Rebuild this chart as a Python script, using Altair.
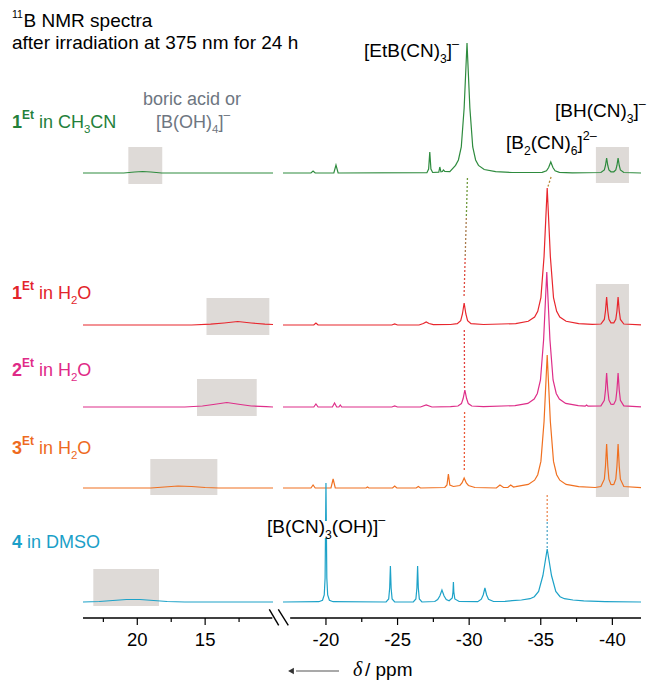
import altair as alt
import pandas as pd

# ---------------- data ----------------
SERIES = ["1Et in CH3CN", "1Et in H2O", "2Et in H2O", "3Et in H2O", "4 in DMSO"]

# left segment (ppm, intensity)
GREEN_L = [(24, 0), (21, 0), (20.2, 1), (19.6, 1.5), (19.0, 1), (18.2, 0), (10, 0)]
RED_L = [(24, 0), (16, 0), (14.6, 0.8), (13.6, 2), (12.6, 3.5), (11.6, 2), (10.6, 0.8), (10, 0.5)]
PINK_L = [(24, 0), (16.5, 0), (15.2, 1), (14.4, 2.5), (13.4, 4.5), (12.4, 2.5), (11.6, 1), (10.5, 0.3), (10, 0)]
ORANGE_L = [(24, 0), (19, 0), (18, 1), (17, 2), (16, 1.5), (15, 0.5), (14, 0), (10, 0)]
BLUE_L = [(24, 0), (22.8, 0.5), (21.8, 1.5), (20.8, 2.5), (19.8, 2.5), (18.8, 1.5), (17.8, 0.5), (16.5, 0), (10, 0)]

# right segment (ppm, intensity)
GREEN_R = [(-17, 0), (-18.95, 0), (-19.1, 2), (-19.25, 0), (-20.55, 0), (-20.7, 8), (-20.85, 0),
           (-27.05, 0.3), (-27.17, 4), (-27.25, 21), (-27.33, 4), (-27.45, 0.5), (-27.88, 0.8),
           (-27.95, 6), (-28.03, 1.2), (-28.13, 1.5), (-28.2, 3), (-28.3, 1.5), (-28.65, 1.3),
           (-29.05, 7.6), (-29.25, 13), (-29.45, 26), (-29.65, 65), (-29.85, 130), (-30.05, 65),
           (-30.25, 26), (-30.45, 13), (-30.65, 7.6), (-31.05, 3.5), (-31.85, 1.3), (-33.0, 0.5),
           (-35.1, 0.6), (-35.4, 2.2), (-35.55, 5.5), (-35.7, 11), (-35.85, 5.5), (-36.0, 2.2),
           (-36.3, 0.6), (-37.2, 0.2),
           (-39.2, 0.5), (-39.44, 3), (-39.52, 7.5), (-39.6, 15), (-39.68, 7.5), (-39.76, 3),
           (-39.9, 1.2), (-40.0, 1.1), (-40.1, 1.2), (-40.24, 3), (-40.32, 7.5), (-40.4, 15),
           (-40.48, 7.5), (-40.56, 3), (-40.8, 0.5), (-42, 0)]
RED_R = [(-17, 0), (-19.15, 0), (-19.3, 2), (-19.45, 0), (-24.6, 0), (-24.8, 1), (-25.0, 0),
         (-26.5, 0), (-26.8, 1.5), (-27.0, 3), (-27.2, 1.5), (-27.5, 0.3), (-28.7, 0.5),
         (-29.17, 1.3), (-29.41, 4.4), (-29.53, 11), (-29.65, 22), (-29.77, 11), (-29.89, 4.4),
         (-30.13, 1.3), (-31.0, 0.5), (-33.25, 1.4), (-34.13, 3.7), (-34.57, 8), (-34.79, 13.7),
         (-35.01, 27.4), (-35.23, 68.5), (-35.45, 137), (-35.67, 68.5), (-35.89, 27.4),
         (-36.11, 13.7), (-36.33, 8), (-36.77, 3.7), (-37.65, 1.4), (-38.6, 0.6),
         (-39.2, 1), (-39.44, 5.6), (-39.52, 14), (-39.6, 28), (-39.68, 14), (-39.76, 5.6),
         (-39.9, 2.2), (-40.0, 2.1), (-40.1, 2.2), (-40.24, 5.6), (-40.32, 14), (-40.4, 28),
         (-40.48, 14), (-40.56, 5.6), (-40.8, 1), (-42, 0.2)]
PINK_R = [(-17, 0), (-19.15, 0), (-19.3, 3), (-19.45, 0), (-20.45, 0), (-20.6, 4), (-20.75, 0),
          (-20.9, 0), (-21.0, 2), (-21.1, 0), (-24.6, 0), (-24.8, 1), (-25.0, 0), (-26.6, 0),
          (-27.0, 2), (-27.4, 0), (-28.7, 0.4), (-29.22, 1), (-29.46, 3.4), (-29.58, 8.5),
          (-29.7, 17), (-29.82, 8.5), (-29.94, 3.4), (-30.18, 1), (-31.0, 0.4), (-33.2, 1.4),
          (-34.1, 3.6), (-34.54, 7.9), (-34.76, 13.5), (-34.98, 27), (-35.2, 67.5), (-35.42, 135),
          (-35.64, 67.5), (-35.86, 27), (-36.08, 13.5), (-36.3, 7.9), (-36.74, 3.6), (-37.62, 1.4),
          (-38.1, 0.8), (-38.2, 2), (-38.3, 0.8),
          (-39.2, 1.2), (-39.44, 6.8), (-39.52, 17), (-39.6, 34), (-39.68, 17), (-39.76, 6.8),
          (-39.9, 2.7), (-40.0, 2.6), (-40.1, 2.7), (-40.24, 6.8), (-40.32, 17), (-40.4, 34),
          (-40.48, 17), (-40.56, 6.8), (-40.8, 1.2), (-42, 0.2)]
ORANGE_R = [(-17, 0), (-18.95, 0), (-19.1, 3), (-19.25, 0), (-20.35, 0), (-20.5, 9), (-20.65, 0),
            (-22.8, 0), (-22.9, 1), (-23.0, 0), (-24.65, 0), (-24.8, 2), (-24.95, 0), (-26.3, 0),
            (-26.45, 1.5), (-26.6, 0), (-28.3, 0.5), (-28.45, 3), (-28.55, 14), (-28.65, 3),
            (-28.9, 1.5), (-29.35, 2.5), (-29.5, 5), (-29.65, 10), (-29.8, 5), (-29.95, 2.5),
            (-30.4, 0.5), (-31.9, 0), (-32.15, 3), (-32.4, 0.5), (-32.7, 0.5), (-32.9, 3),
            (-33.1, 1), (-33.25, 1.3), (-34.13, 3.6), (-34.57, 7.8), (-34.79, 13.3),
            (-35.01, 26.6), (-35.23, 66.5), (-35.45, 133), (-35.67, 66.5), (-35.89, 26.6),
            (-36.11, 13.3), (-36.33, 7.8), (-36.77, 3.6), (-37.65, 1.3), (-38.8, 0.5),
            (-39.2, 1.5), (-39.44, 8.8), (-39.52, 22), (-39.6, 44), (-39.68, 22), (-39.76, 8.8),
            (-39.9, 3.5), (-40.0, 3.4), (-40.1, 3.5), (-40.24, 8.8), (-40.32, 22), (-40.4, 44),
            (-40.48, 22), (-40.56, 8.8), (-40.8, 1.5), (-42, 0.3)]
BLUE_R = [(-17, 0), (-19.5, 0.3), (-19.76, 1.7), (-19.88, 7), (-19.94, 24), (-20.0, 119),
          (-20.06, 24), (-20.12, 7), (-20.24, 1.7), (-20.5, 0.3), (-24.2, 0), (-24.38, 3),
          (-24.45, 14), (-24.5, 36), (-24.55, 14), (-24.62, 3), (-24.8, 0), (-26.1, 0),
          (-26.28, 3), (-26.35, 14), (-26.4, 36), (-26.45, 14), (-26.52, 3), (-26.7, 0),
          (-27.6, 0.5), (-27.8, 2.5), (-27.95, 6), (-28.1, 12), (-28.25, 6), (-28.4, 2.5),
          (-28.6, 1.2), (-28.82, 4), (-28.87, 10), (-28.9, 20), (-28.93, 10), (-29.0, 3),
          (-29.3, 0.5), (-30.6, 0.3), (-30.85, 2.8), (-30.98, 7), (-31.1, 14), (-31.22, 7),
          (-31.35, 2.8), (-31.7, 0.5), (-32.5, 0.6), (-33.0, 1.3), (-33.65, 2), (-34.25, 3.3),
          (-34.55, 5.3), (-34.85, 10.6), (-35.15, 26.5), (-35.45, 53), (-35.75, 26.5),
          (-36.05, 10.6), (-36.35, 5.3), (-36.65, 3.3), (-37.25, 2), (-38.0, 1.1),
          (-39.5, 0.4), (-42, 0)]

LEFT = [GREEN_L, RED_L, PINK_L, ORANGE_L, BLUE_L]
RIGHT = [GREEN_R, RED_R, PINK_R, ORANGE_R, BLUE_R]

# highlight boxes (ppm from, ppm to, level bottom, level top)
BOX_X1 = [20.66, -38.85, 14.9, 15.6, 19.04, 23.24, -38.85]
BOX_X2 = [18.16, -41.16, 10.27, 11.2, 14.1, 18.4, -41.16]
BOX_Y1 = [434, 435, 283, 202, 123, 12, 121]
BOX_Y2 = [471, 471, 320, 239, 159, 49, 334]

# dotted connectors (ppm a, level a, ppm b, level b)
CON_X1 = [-29.88, -29.80, -29.72, -29.66, -29.68, -35.72, -35.45, -35.45]
CON_Y1 = [440, 400, 360, 288, 206, 441, 123, 96]
CON_X2 = [-29.80, -29.72, -29.64, -29.68, -29.66, -35.47, -35.45, -35.45]
CON_Y2 = [400, 360, 320, 230, 147, 430, 96, 69]
CON_C = ["#6f9a3c", "#a97b4c", "#dd4a3e", "#e2403e", "#ea5c3a", "#b98a3a", "#ec8a54", "#56a9c9"]

MAJOR_TICKS = [20, 15, -20, -25, -30, -35, -40]
MAJOR_LABELS = ["20", "15", "-20", "-25", "-30", "-35", "-40"]
MINOR_TICKS = [22.5, 17.5, 12.5, -22.5, -27.5, -32.5, -37.5]

# ---------------- styling / layout ----------------
COLORS = ["#2e8b3e", "#e8262d", "#de2e89", "#f07020", "#1da2c8"]
LABEL_COLORS = ["#23803a", "#e3242b", "#df2a87", "#ee6a1e", "#1a9fc8"]
OFFSETS = [445, 293, 211, 130, 16]
W, H = 641, 610
FONT = "Liberation Sans"

rows = []
for i, name in enumerate(SERIES):
    for seg, pts in (("L", LEFT[i]), ("R", RIGHT[i])):
        for p, v in pts:
            rows.append({"ppm": p, "y": v + OFFSETS[i], "series": name, "seg": name + seg})
spec = pd.DataFrame(rows)

xscale = alt.Scale(domain=[24, 10, -17, -42], range=[75, 265, 275, 633], nice=False, zero=False)
yscale = alt.Scale(domain=[0, H], nice=False, zero=False)

lines = alt.Chart(spec).mark_line(strokeWidth=1.2).encode(
    x=alt.X("ppm:Q", scale=xscale, axis=None),
    y=alt.Y("y:Q", scale=yscale, axis=None),
    color=alt.Color("series:N", scale=alt.Scale(domain=SERIES, range=COLORS), legend=None),
    detail="seg:N",
)

boxes = alt.Chart(pd.DataFrame({"a": BOX_X1, "b": BOX_X2, "c": BOX_Y1, "d": BOX_Y2})).mark_rect(
    color="#dedad7").encode(
    x=alt.X("a:Q", scale=xscale, axis=None), x2="b:Q",
    y=alt.Y("c:Q", scale=yscale, axis=None), y2="d:Q")

conns = alt.Chart(pd.DataFrame({"a": CON_X1, "b": CON_X2, "c": CON_Y1, "d": CON_Y2, "col": CON_C})).mark_rule(
    strokeDash=[2, 2], strokeWidth=1.3).encode(
    x=alt.X("a:Q", scale=xscale, axis=None), x2="b:Q",
    y=alt.Y("c:Q", scale=yscale, axis=None), y2="d:Q",
    color=alt.Color("col:N", scale=None, legend=None))

# ---- broken x axis ----
axline = alt.Chart(pd.DataFrame({"a": [24, -17.5], "b": [10.05, -42]})).mark_rule(
    strokeWidth=1.4, color="black").encode(
    x=alt.X("a:Q", scale=xscale, axis=None), x2="b:Q", y=alt.value(H))

major = alt.Chart(pd.DataFrame({"v": MAJOR_TICKS, "lab": MAJOR_LABELS}))
major_ticks = major.mark_rule(strokeWidth=1.2, color="black").encode(
    x=alt.X("v:Q", scale=xscale, axis=None), y=alt.value(H), y2=alt.value(H + 7))
major_labels = major.mark_text(font=FONT, fontSize=18.5, align="center", baseline="alphabetic",
                               color="black").encode(
    x=alt.X("v:Q", scale=xscale, axis=None), y=alt.value(H + 28), text="lab:N")
minor_ticks = alt.Chart(pd.DataFrame({"v": MINOR_TICKS})).mark_rule(strokeWidth=1.2, color="black").encode(
    x=alt.X("v:Q", scale=xscale, axis=None), y=alt.value(H), y2=alt.value(H + 4))

brk = alt.Chart(pd.DataFrame({"a": [261.3, 270.3], "b": [270.7, 280.3], "c": [601.3, 601.3], "d": [617.3, 617.3]})).mark_rule(
    strokeWidth=1.4, color="black").encode(
    x=alt.X("a:Q", scale=None, axis=None), x2="b:Q",
    y=alt.Y("c:Q", scale=None, axis=None), y2="d:Q")

# white gap in the blue peak behind its label
gap = alt.Chart(pd.DataFrame({"a": [315.5], "b": [321.5], "c": [513], "d": [530]})).mark_rect(
    color="white").encode(
    x=alt.X("a:Q", scale=None, axis=None), x2="b:Q",
    y=alt.Y("c:Q", scale=None, axis=None), y2="d:Q")

# ---------------- rich text ----------------
AW = {" ": 278, "[": 278, "]": 278, "(": 333, ")": 333, "/": 278, "–": 556, "-": 333,
      "B": 667, "C": 722, "D": 722, "E": 667, "H": 722, "M": 833, "N": 722, "O": 778,
      "R": 722, "S": 667, "a": 556, "b": 556, "c": 500, "d": 556, "e": 556, "f": 278,
      "h": 556, "i": 222, "m": 833, "n": 556, "o": 556, "p": 556, "r": 333, "s": 500, "t": 278}
AWB = {"E": 667, "t": 333}


def tw(s, size, bold=False):
    return sum((AWB.get(ch) if bold and ch in AWB else AW.get(ch, 556)) for ch in s) * size / 1000.0


def rich(parts, x0, base, color, S, center=False):
    out = []
    items = []
    for txt, kind in parts:
        if kind in ("sup", "bsup"):
            size, dy = S * 0.66, -0.5 * S
        elif kind == "sup2":
            size, dy = S * 0.55, -0.45 * S
        elif kind == "sub":
            size, dy = S * 0.64, 0.3 * S
        else:
            size, dy = S, 0
        items.append((txt, kind, size, dy, kind in ("b", "bsup")))
    if center:
        x0 = x0 - sum(tw(t, s, b) for t, _, s, _, b in items) / 2
    x = x0
    for txt, kind, size, dy, bold in items:
        lead = len(txt) - len(txt.lstrip(" "))
        core = txt.strip(" ")
        out.append({"t": core, "x": x + tw(" " * lead, size), "y": base + dy, "s": size,
                    "c": color, "bold": bold})
        x += tw(txt, size, bold)
    return out


texts = []
texts += rich([("11", "sup2"), ("B NMR spectra", "n")], 4, 19, "black", 19)
texts += rich([("after irradiation at 375 nm for 24 h", "n")], 4, 41, "black", 19)
texts += rich([("1", "b"), ("Et", "bsup"), (" in CH", "n"), ("3", "sub"), ("CN", "n")], 4, 120, LABEL_COLORS[0], 18)
texts += rich([("1", "b"), ("Et", "bsup"), (" in H", "n"), ("2", "sub"), ("O", "n")], 4, 291, LABEL_COLORS[1], 18)
texts += rich([("2", "b"), ("Et", "bsup"), (" in H", "n"), ("2", "sub"), ("O", "n")], 4, 368, LABEL_COLORS[2], 18)
texts += rich([("3", "b"), ("Et", "bsup"), (" in H", "n"), ("2", "sub"), ("O", "n")], 4, 446, LABEL_COLORS[3], 18)
texts += rich([("4", "b"), (" in DMSO", "n")], 4, 540, LABEL_COLORS[4], 18)
texts += rich([("boric acid or", "n")], 184, 97, "#6e7681", 18, center=True)
texts += rich([("[B(OH)", "n"), ("4", "sub"), ("]", "n"), ("–", "sup")], 185, 120, "#6e7681", 18, center=True)
texts += rich([("[EtB(CN)", "n"), ("3", "sub"), ("]", "n"), ("–", "sup")], 356, 49, "black", 19)
texts += rich([("[B", "n"), ("2", "sub"), ("(CN)", "n"), ("6", "sub"), ("]", "n"), ("2–", "sup")], 498, 141, "black", 19)
texts += rich([("[BH(CN)", "n"), ("3", "sub"), ("]", "n"), ("–", "sup")], 547, 109, "black", 19)
texts += rich([("[B(CN)", "n"), ("3", "sub"), ("(OH)]", "n"), ("–", "sup")], 259, 525, "black", 19)
texts += rich([("/ ppm", "n")], 357, 668, "black", 19)
tdf = pd.DataFrame(texts)


def text_layer(df, weight="normal", style="normal", font=FONT):
    return alt.Chart(df).mark_text(align="left", baseline="alphabetic", font=font,
                                   fontWeight=weight, fontStyle=style).encode(
        x=alt.X("x:Q", scale=None, axis=None),
        y=alt.Y("y:Q", scale=None, axis=None),
        size=alt.Size("s:Q", scale=None, legend=None),
        color=alt.Color("c:N", scale=None, legend=None),
        text="t:N")


t_norm = text_layer(tdf[~tdf["bold"]])
t_bold = text_layer(tdf[tdf["bold"]], weight="bold")
t_delta = text_layer(pd.DataFrame([{"t": "δ", "x": 345, "y": 668, "s": 20, "c": "black"}]),
                     style="italic", font="Liberation Serif")

arrow_line = alt.Chart(pd.DataFrame({"a": [288], "b": [331], "c": [663]})).mark_rule(
    strokeWidth=1.4, color="#8c8c8c").encode(
    x=alt.X("a:Q", scale=None, axis=None), x2="b:Q", y=alt.Y("c:Q", scale=None, axis=None))
arrow_head = alt.Chart(pd.DataFrame({"a": [283], "c": [663]})).mark_point(
    shape="triangle-left", filled=True, size=45, color="#333333", opacity=1).encode(
    x=alt.X("a:Q", scale=None, axis=None), y=alt.Y("c:Q", scale=None, axis=None))

chart = alt.layer(
    boxes, conns, lines, axline, major_ticks, minor_ticks, major_labels, brk, gap,
    arrow_line, arrow_head, t_norm, t_bold, t_delta
).properties(
    width=W, height=H,
    autosize=alt.AutoSizeParams(type="none"),
    padding={"left": 0, "top": 0, "right": 0, "bottom": 66},
).configure_view(stroke=None)

chart.save("out.html", embed_options={"renderer": "svg", "actions": False})
